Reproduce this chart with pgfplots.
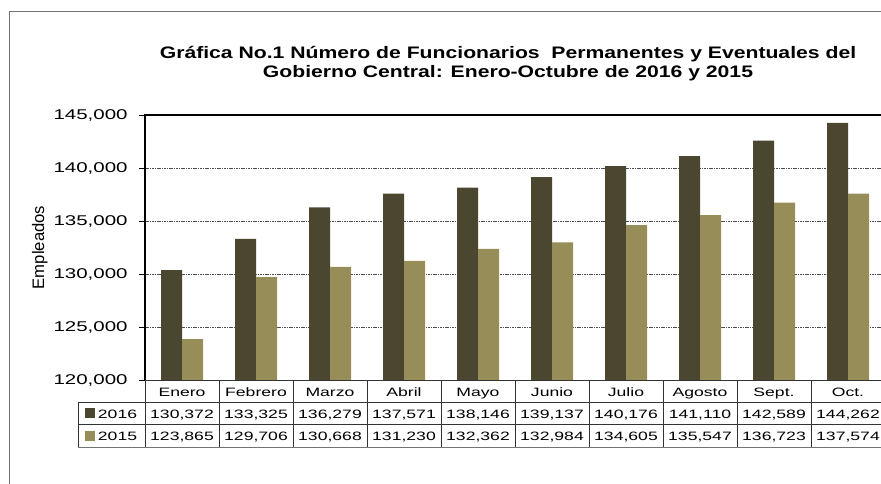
\documentclass[border=0pt]{standalone}
\usepackage{fontspec}
\setmainfont{Liberation Sans}[FakeStretch=1.45]
\newfontfamily\plainfont{Liberation Sans}
\newfontfamily\titlefont{Liberation Sans Bold}[FakeStretch=1.27]
\usepackage{pgfplots}
\usepackage{pgfplotstable}
\pgfplotsset{compat=1.18}

\definecolor{oscuro}{HTML}{4A4630}
\definecolor{claro}{HTML}{978D59}

\tikzset{celda/.style={font=\fontsize{9.1}{10}\selectfont, anchor=base, inner sep=0pt}}

% 1 px of the reference = 0.75pt
\pgfplotstableread{
mes y16 y15
Enero 130372 123865
Febrero 133325 129706
Marzo 136279 130668
Abril 137571 131230
Mayo 138146 132362
Junio 139137 132984
Julio 140176 134605
Agosto 141110 135547
Sept. 142589 136723
Oct. 144262 137574
}\datos

\begin{document}
\begin{tikzpicture}
\pgfkeys{/pgf/number format/.cd,fixed,precision=0,1000 sep={,},assume math mode=true}
\begin{axis}[
  at={(108.75pt,-285pt)}, anchor=south west,
  scale only axis,
  width=555pt, height=198.75pt,
  xmin=-0.5, xmax=9.5,
  ymin=120000, ymax=145000,
  ytick={120000,125000,130000,135000,140000,145000},
  scaled y ticks=false,
  xtick=\empty,
  ymajorgrids,
  major grid style={dash pattern=on 1.2pt off 0.6pt, black!70, line width=0.35pt},
  axis line style={draw=none},
  tick align=outside,
  major tick length=4.5pt,
  ytick style={black, line width=0.6pt},
  yticklabel style={font=\fontsize{10.6}{12}\selectfont, xshift=-5pt,
    /pgf/number format/fixed, /pgf/number format/1000 sep={,}, /pgf/number format/assume math mode=true},
  ylabel={\plainfont Empleados},
  ylabel style={at={(axis description cs:-0.142,0.5)}, anchor=center, font=\fontsize{12.5}{14}\selectfont},
  clip=false,
]
\addplot[ybar, fill=oscuro, draw=none, bar width=15.75pt, bar shift=-7.875pt]
  table[x expr=\coordindex, y=y16]{\datos};
\addplot[ybar, fill=claro, draw=none, bar width=15.75pt, bar shift=7.875pt]
  table[x expr=\coordindex, y=y15]{\datos};

% frame of the plot area
\draw[line width=1.5pt] (rel axis cs:0,0) -- (rel axis cs:0,1) -- (rel axis cs:1.01,1);

% data table below the axis
\draw[black!80, line width=0.6pt] (rel axis cs:0,0) -- (rel axis cs:1.01,0);
\draw[black!80, line width=0.6pt] ([xshift=-50.25pt,yshift=-16.5pt]rel axis cs:0,0) -- ([yshift=-16.5pt]rel axis cs:1.01,0);
\draw[black!80, line width=0.6pt] ([xshift=-50.25pt,yshift=-33pt]rel axis cs:0,0) -- ([yshift=-33pt]rel axis cs:1.01,0);
\draw[black!55, line width=0.6pt] ([xshift=-50.25pt,yshift=-50.25pt]rel axis cs:0,0) -- ([yshift=-50.25pt]rel axis cs:1.01,0);
\draw[black!80, line width=0.6pt] ([xshift=-50.25pt,yshift=-16.5pt]rel axis cs:0,0) -- ([xshift=-50.25pt,yshift=-50.25pt]rel axis cs:0,0);
\pgfplotsinvokeforeach{-0.5,0.5,1.5,2.5,3.5,4.5,5.5,6.5,7.5,8.5,9.5}{
  \draw[black!80, line width=0.6pt] (axis cs:#1,120000) -- ([yshift=-50.25pt]axis cs:#1,120000);
}
\pgfplotsinvokeforeach{0,...,9}{
  \node[celda] at ([yshift=-12pt]axis cs:#1,120000)
    {\pgfplotstablegetelem{#1}{mes}\of\datos\pgfplotsretval};
  \node[celda] at ([yshift=-28.5pt]axis cs:#1,120000)
    {\pgfplotstablegetelem{#1}{y16}\of\datos\pgfmathprintnumber[fixed,precision=0]{\pgfplotsretval}};
  \node[celda] at ([yshift=-45.2pt]axis cs:#1,120000)
    {\pgfplotstablegetelem{#1}{y15}\of\datos\pgfmathprintnumber[fixed,precision=0]{\pgfplotsretval}};
}
% legend keys in the table
\fill[oscuro] ([xshift=-45pt,yshift=-21pt]rel axis cs:0,0) rectangle ++(7.5pt,-7.5pt);
\fill[claro] ([xshift=-45pt,yshift=-37.9pt]rel axis cs:0,0) rectangle ++(7.5pt,-7.5pt);
\node[celda] at ([xshift=-20.6pt,yshift=-28.5pt]rel axis cs:0,0) {2016};
\node[celda] at ([xshift=-20.6pt,yshift=-45.2pt]rel axis cs:0,0) {2015};
\end{axis}

% title
\node[font=\titlefont\fontsize{12.5}{14.5}\selectfont, align=center] at (381pt,-47.8pt)
  {Gráfica No.1 Número de Funcionarios\ \ Permanentes y Eventuales del\\Gobierno Central: Enero-Octubre de 2016 y 2015};

% outer chart frame
\draw[black!55, line width=0.6pt] (7.2pt,-370pt) -- (7.2pt,-8.8pt) -- (700pt,-8.8pt);

\pgfresetboundingbox
\path[use as bounding box] (0,0) rectangle (660.75pt,-363pt);
\end{tikzpicture}
\end{document}
